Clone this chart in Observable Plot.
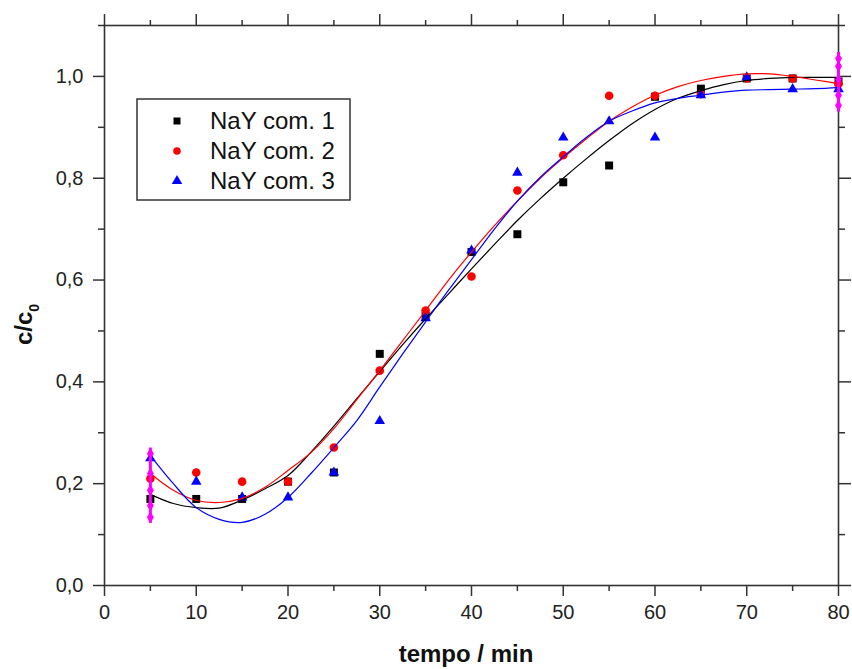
<!DOCTYPE html>
<html>
<head>
<meta charset="utf-8">
<script src="https://cdn.jsdelivr.net/npm/d3@7"></script>
<script src="https://cdn.jsdelivr.net/npm/@observablehq/plot@0.6"></script>
<style>
  html, body { margin: 0; padding: 0; background: #fff; }
  #chart { width: 852px; height: 669px; }
  svg { display: block; }
</style>
</head>
<body>
<div id="chart"></div>
<script>
// ---- data ----
const tempo = [5, 10, 15, 20, 25, 30, 35, 40, 45, 50, 55, 60, 65, 70, 75, 80];
const com1 = [0.170, 0.170, 0.170, 0.204, 0.222, 0.455, 0.530, 0.655, 0.690, 0.792, 0.825, 0.960, 0.976, 0.996, 0.996, 0.990];
const com2 = [0.210, 0.222, 0.204, 0.204, 0.271, 0.422, 0.540, 0.607, 0.776, 0.845, 0.962, 0.962, 0.965, 0.996, 0.996, 0.985];
const com3 = [0.250, 0.204, 0.173, 0.173, 0.222, 0.323, 0.525, 0.658, 0.811, 0.880, 0.912, 0.880, 0.963, 0.998, 0.975, 0.975];

const fitTempo = [5, 7.5, 10, 12.5, 15, 17.5, 20, 22.5, 25, 27.5, 30, 32.5, 35, 37.5, 40, 42.5, 45, 47.5, 50, 52.5, 55, 57.5, 60, 62.5, 65, 67.5, 70, 72.5, 75, 77.5, 80];
const fit1 = [0.179, 0.161, 0.153, 0.152, 0.168, 0.190, 0.216, 0.262, 0.313, 0.367, 0.420, 0.473, 0.524, 0.573, 0.622, 0.670, 0.717, 0.760, 0.800, 0.838, 0.874, 0.907, 0.935, 0.957, 0.972, 0.984, 0.992, 0.996, 0.998, 0.998, 0.998];
const fit2 = [0.220, 0.187, 0.167, 0.163, 0.171, 0.193, 0.226, 0.261, 0.308, 0.365, 0.422, 0.481, 0.540, 0.600, 0.655, 0.707, 0.755, 0.800, 0.840, 0.877, 0.912, 0.940, 0.963, 0.980, 0.992, 1.000, 1.005, 1.005, 1.000, 0.993, 0.986];
const fit3 = [0.255, 0.200, 0.153, 0.130, 0.124, 0.140, 0.173, 0.220, 0.271, 0.324, 0.390, 0.455, 0.518, 0.580, 0.640, 0.700, 0.755, 0.802, 0.842, 0.880, 0.912, 0.932, 0.948, 0.957, 0.963, 0.969, 0.973, 0.974, 0.975, 0.976, 0.978];

// magenta error bars (x, low, high) and their markers
const errX = [5, 80];
const errLow = [0.122, 0.930];
const errHigh = [0.270, 1.047];
const errMarkX = [5, 5, 5, 5, 5, 80, 80, 80, 80, 80];
const errMarkY = [0.259, 0.220, 0.187, 0.157, 0.134, 1.035, 1.020, 0.994, 0.963, 0.943];

const seriesNames = ["NaY com. 1", "NaY com. 2", "NaY com. 3"];
const seriesColors = ["#000000", "#ff0000", "#0000ff"];
const seriesSymbols = ["square", "circle", "triangle"];

const xMajor = [0, 10, 20, 30, 40, 50, 60, 70, 80];
const xMinor = [5, 15, 25, 35, 45, 55, 65, 75];
const yMajor = [0, 0.2, 0.4, 0.6, 0.8, 1.0];
const yMinor = [0.1, 0.3, 0.5, 0.7, 0.9, 1.1];

// ---- build tables ----
const pts = (ys, s) => tempo.map((t, i) => ({t, v: ys[i], s}));
const fits = (ys, s) => fitTempo.map((t, i) => ({t, v: ys[i], s}));
const P1 = pts(com1, 0), P2 = pts(com2, 1), P3 = pts(com3, 2);
const F1 = fits(fit1, 0), F2 = fits(fit2, 1), F3 = fits(fit3, 2);
const errBars = errX.map((x, i) => ({x, y1: errLow[i], y2: errHigh[i]}));
const errMarks = errMarkX.map((x, i) => ({x, y: errMarkY[i]}));

const axisColor = "#333";
const fmt = d => d3.format(".1f")(d).replace(".", ",");
const fontFam = "'Liberation Sans', Arial, sans-serif";

const chart = Plot.plot({
  width: 852,
  height: 669,
  marginLeft: 104,
  marginRight: 14,
  marginTop: 25,
  marginBottom: 84,
  style: {fontFamily: fontFam, background: "#fff", color: "#222"},
  x: {domain: [0, 80]},
  y: {domain: [0, 1.1]},
  marks: [
    // axes
    Plot.axisX({anchor: "bottom", ticks: xMajor, tickSize: 11, tickPadding: 8, fontSize: 20, label: null, stroke: axisColor, strokeWidth: 1.5, fill: "#222"}),
    Plot.axisX({anchor: "bottom", ticks: xMinor, tickSize: 6, text: null, label: null, stroke: axisColor, strokeWidth: 1.5}),
    Plot.axisX({anchor: "top", ticks: xMajor, tickSize: 12, text: null, label: null, stroke: axisColor, strokeWidth: 1.5}),
    Plot.axisX({anchor: "top", ticks: xMinor, tickSize: 6, text: null, label: null, stroke: axisColor, strokeWidth: 1.5}),
    Plot.axisY({anchor: "left", ticks: yMajor, tickSize: 11, tickPadding: 10, fontSize: 20, tickFormat: fmt, label: null, stroke: axisColor, strokeWidth: 1.5, fill: "#222"}),
    Plot.axisY({anchor: "left", ticks: yMinor, tickSize: 6, text: null, label: null, stroke: axisColor, strokeWidth: 1.5}),
    Plot.axisY({anchor: "right", ticks: yMajor, tickSize: 12, text: null, label: null, stroke: axisColor, strokeWidth: 1.5}),
    Plot.axisY({anchor: "right", ticks: yMinor, tickSize: 6, text: null, label: null, stroke: axisColor, strokeWidth: 1.5}),
    Plot.frame({stroke: axisColor, strokeWidth: 1.6}),
    // data points
    Plot.dot(P1, {x: "t", y: "v", symbol: "square", r: 4.5, fill: seriesColors[0], stroke: "none"}),
    Plot.dot(P2, {x: "t", y: "v", symbol: "circle", r: 4.3, fill: seriesColors[1], stroke: "none"}),
    Plot.dot(P3, {x: "t", y: "v", symbol: "triangle", r: 3.9, fill: seriesColors[2], stroke: "none"}),
    // fitted curves
    Plot.line(F1, {x: "t", y: "v", stroke: seriesColors[0], strokeWidth: 1.2, curve: "catmull-rom"}),
    Plot.line(F2, {x: "t", y: "v", stroke: seriesColors[1], strokeWidth: 1.2, curve: "catmull-rom"}),
    Plot.line(F3, {x: "t", y: "v", stroke: seriesColors[2], strokeWidth: 1.2, curve: "catmull-rom"}),
    // magenta error bars
    Plot.ruleX(errBars, {x: "x", y1: "y1", y2: "y2", stroke: "#ff00ff", strokeWidth: 3}),
    Plot.dot(errMarks, {x: "x", y: "y", symbol: "diamond", r: 3.6, fill: "#ff00ff", stroke: "none"})
  ]
});

document.getElementById("chart").appendChild(chart);

// ---- axis titles and legend (annotation) ----
const svg = d3.select(chart);
svg.append("text")
  .attr("x", 466).attr("y", 662)
  .attr("text-anchor", "middle")
  .attr("font-family", fontFam).attr("font-weight", "bold").attr("font-size", 24)
  .attr("fill", "#111")
  .text("tempo / min");

const yt = svg.append("text")
  .attr("transform", "translate(32,345) rotate(-90)")
  .attr("text-anchor", "start")
  .attr("font-family", fontFam).attr("font-weight", "bold").attr("font-size", 24)
  .attr("fill", "#111");
yt.append("tspan").text("c/c");
yt.append("tspan").attr("dy", 7).attr("font-size", 14).text("0");

const lg = svg.append("g");
lg.append("rect")
  .attr("x", 137).attr("y", 99).attr("width", 213).attr("height", 101)
  .attr("fill", "#fff").attr("stroke", axisColor).attr("stroke-width", 1.5);
const rowY = [121, 151, 181];
seriesNames.forEach((name, i) => {
  const sym = {square: d3.symbolSquare, circle: d3.symbolCircle, triangle: d3.symbolTriangle}[seriesSymbols[i]];
  const size = seriesSymbols[i] === "square" ? 49 : seriesSymbols[i] === "circle" ? 45 : 48;
  lg.append("path")
    .attr("d", d3.symbol(sym, size)())
    .attr("transform", `translate(177,${rowY[i]})`)
    .attr("fill", seriesColors[i]);
  lg.append("text")
    .attr("x", 210).attr("y", rowY[i] + 8)
    .attr("text-anchor", "start")
    .attr("font-family", fontFam).attr("font-size", 24)
    .attr("fill", "#111")
    .text(name);
});
</script>
</body>
</html>
